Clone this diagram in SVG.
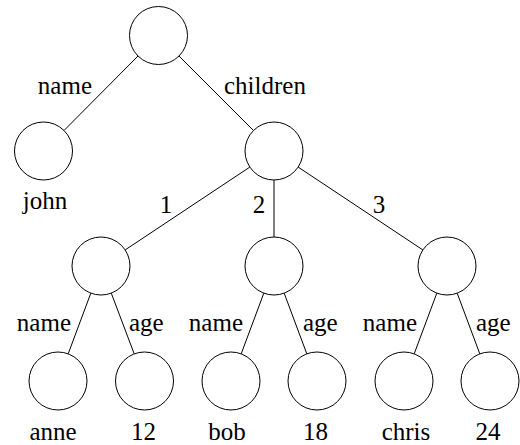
<svg xmlns="http://www.w3.org/2000/svg" width="520" height="445" viewBox="0 0 520 445">
<rect width="520" height="445" fill="#fff"/>
<g id="connectors" stroke="#000" stroke-width="1">
<line x1="138" y1="56" x2="64" y2="130.5"/>
<line x1="179" y1="56" x2="253.5" y2="130.5"/>
<line x1="249.8" y1="167.1" x2="125.2" y2="249.9"/>
<line x1="274" y1="180" x2="274" y2="237"/>
<line x1="298.2" y1="167.1" x2="422.8" y2="249.9"/>
<line x1="90.8" y1="293.2" x2="68.2" y2="353.8"/>
<line x1="111.3" y1="293.2" x2="134.2" y2="353.8"/>
<line x1="263.8" y1="293.2" x2="241.2" y2="353.8"/>
<line x1="284.2" y1="293.2" x2="306.8" y2="353.8"/>
<line x1="436.8" y1="293.2" x2="414.2" y2="353.8"/>
<line x1="457.2" y1="293.2" x2="479.8" y2="353.8"/>
</g>
<g id="edge-labels" font-family="Liberation Serif" font-size="25" fill="#000">
<text x="92" y="94" text-anchor="end">name</text>
<text x="224" y="94">children</text>
<text x="166" y="213" text-anchor="middle">1</text>
<text x="259" y="213" text-anchor="middle">2</text>
<text x="379" y="213" text-anchor="middle">3</text>
<text x="71" y="331" text-anchor="end">name</text>
<text x="129" y="331">age</text>
<text x="243" y="331" text-anchor="end">name</text>
<text x="303" y="331">age</text>
<text x="417" y="331" text-anchor="end">name</text>
<text x="476" y="331">age</text>
</g>
<g id="nodes" fill="#fff" stroke="#000" stroke-width="1">
<g id="root"><circle cx="158.5" cy="35.5" r="29"/></g>
<g id="john"><circle cx="43.5" cy="151" r="29"/></g>
<g id="children"><circle cx="274" cy="151" r="29"/></g>
<g id="child1"><circle cx="101" cy="266" r="29"/></g>
<g id="child2"><circle cx="274" cy="266" r="29"/></g>
<g id="child3"><circle cx="447" cy="266" r="29"/></g>
<g id="anne"><circle cx="58" cy="381" r="29"/></g>
<g id="age12"><circle cx="144.5" cy="381" r="29"/></g>
<g id="bob"><circle cx="231" cy="381" r="29"/></g>
<g id="age18"><circle cx="317" cy="381" r="29"/></g>
<g id="chris"><circle cx="404" cy="381" r="29"/></g>
<g id="age24"><circle cx="490" cy="381" r="29"/></g>
</g>
<g id="node-labels" font-family="Liberation Serif" font-size="25" fill="#000" text-anchor="middle">
<text x="45" y="209">john</text>
<text x="53" y="440">anne</text>
<text x="143.5" y="440">12</text>
<text x="227" y="440">bob</text>
<text x="315.5" y="440">18</text>
<text x="406" y="440">chris</text>
<text x="488" y="440">24</text>
</g>
</svg>
